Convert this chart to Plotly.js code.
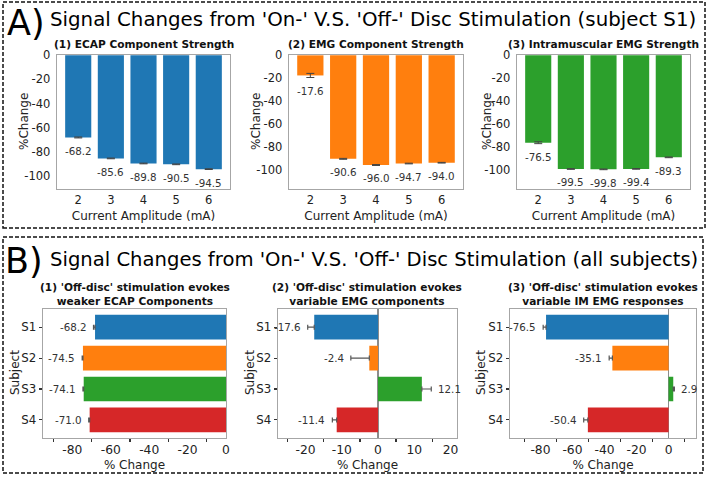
<!DOCTYPE html>
<html>
<head>
<meta charset="utf-8">
<script src="https://cdn.plot.ly/plotly-3.0.1.min.js"></script>
<style>html,body{margin:0;padding:0;background:#fff;}#chart{width:708px;height:477px;}</style>
</head>
<body>
<div id="chart"></div>
<script>
// ---------- data ----------
const amplitudes = [2, 3, 4, 5, 6];
const ecapS1 = [-68.2, -85.6, -89.8, -90.5, -94.5];
const emgS1 = [-17.6, -90.6, -96.0, -94.7, -94.0];
const imS1 = [-76.5, -99.5, -99.8, -99.4, -89.3];
const ecapS1Err = [0.4, 0.3, 0.3, 0.3, 0.3];
const emgS1Err = [1.8, 0.4, 0.4, 0.3, 0.3];
const imS1Err = [0.8, 0.3, 0.3, 0.3, 0.3];

const subjects = ['S1', 'S2', 'S3', 'S4'];
const ecapAll = [-68.2, -74.5, -74.1, -71.0];
const emgAll = [-17.6, -2.4, 12.1, -11.4];
const imAll = [-76.5, -35.1, 2.9, -50.4];
const ecapAllErr = [0.8, 0.4, 0.4, 0.5];
const emgAllErr = [1.8, 5.1, 2.6, 1.2];
const imAllErr = [1.8, 2.0, 0.7, 2.6];

const titleA = "Signal Changes from 'On-' V.S. 'Off-' Disc Stimulation (subject S1)";
const titleB = "Signal Changes from 'On-' V.S. 'Off-' Disc Stimulation (all subjects)";
const subTitlesA = ['(1) ECAP Component Strength', '(2) EMG Component Strength', '(3) Intramuscular EMG Strength'];
const subTitlesB = ["(1) 'Off-disc' stimulation evokes<br>weaker ECAP Components",
                    "(2) 'Off-disc' stimulation evokes<br>variable EMG components",
                    "(3) 'Off-disc' stimulation evokes<br>variable IM EMG responses"];
const xTitleA = 'Current Amplitude (mA)';
const yTitleA = '%Change';
const xTitleB = '% Change';
const yTitleB = 'Subject';
const yTicksA = [0, -20, -40, -60, -80, -100];
const xTicksB = [[-80, -60, -40, -20, 0], [-20, -10, 0, 10, 20], [-80, -60, -40, -20, 0]];
const xMinorTicksB = [[-90, -70, -50, -30, -10], [-25, -15, -5, 5, 15], [-90, -70, -50, -30, -10, 10]];

// ---------- styles ----------
const tab = ['#1f77b4', '#ff7f0e', '#2ca02c', '#d62728'];
const FONT = 'DejaVu Sans, Verdana, sans-serif';
const W = 708, H = 477;
const px = v => v / W;
const py = v => 1 - v / H;

const traces = [];
const annotations = [];

// Panel A
const seriesA = [ecapS1, emgS1, imS1];
const errA = [ecapS1Err, emgS1Err, imS1Err];
const colA = [tab[0], tab[1], tab[2]];
seriesA.forEach((vals, i) => {
  const ax = i === 0 ? '' : String(i + 1);
  traces.push({
    type: 'bar', x: amplitudes, y: vals, width: 0.8,
    xaxis: 'x' + ax, yaxis: 'y' + ax,
    marker: {color: colA[i], line: {width: 0}},
    error_y: {type: 'data', array: errA[i], color: '#444', thickness: 1, width: 4},
    hoverinfo: 'x+y', showlegend: false
  });
  vals.forEach((v, k) => {
    annotations.push({
      xref: 'x' + ax, yref: 'y' + ax, x: amplitudes[k], y: v - errA[i][k],
      text: v.toFixed(1), showarrow: false, xanchor: 'center', yanchor: 'top', yshift: -5,
      font: {family: FONT, size: 10.3, color: '#333'}
    });
  });
});

// Panel B
const seriesB = [ecapAll, emgAll, imAll];
const errB = [ecapAllErr, emgAllErr, imAllErr];
seriesB.forEach((vals, i) => {
  const ax = String(i + 4);
  const plus = vals.map((v, k) => v >= 0 ? errB[i][k] : 0);
  const minus = vals.map((v, k) => v < 0 ? errB[i][k] : 0);
  traces.push({
    type: 'bar', orientation: 'h', x: vals, y: subjects, width: 0.8,
    xaxis: 'x' + ax, yaxis: 'y' + ax,
    marker: {color: tab, line: {width: 0}},
    error_x: {type: 'data', symmetric: false, array: plus, arrayminus: minus,
              color: '#555', thickness: 1.2, width: 2.5},
    hoverinfo: 'x+y', showlegend: false
  });
  // invisible companion trace carrying the offset tick-mark axis
  traces.push({
    type: 'scatter', mode: 'markers', x: vals, y: subjects,
    xaxis: 'x' + String(i + 7), yaxis: 'y' + ax,
    marker: {opacity: 0, size: 1}, hoverinfo: 'skip', showlegend: false
  });
  vals.forEach((v, k) => {
    const neg = v < 0;
    annotations.push({
      xref: 'x' + ax, yref: 'y' + ax,
      x: neg ? v - errB[i][k] : v + errB[i][k], y: subjects[k],
      text: v.toFixed(1), showarrow: false,
      xanchor: neg ? 'right' : 'left', yanchor: 'middle', xshift: neg ? -5 : 5,
      font: {family: FONT, size: 10.3, color: '#333'}
    });
  });
});

// Headline titles
annotations.push(
  {xref: 'paper', yref: 'paper', x: px(5), y: py(23), text: 'A)', showarrow: false,
   xanchor: 'left', yanchor: 'middle', font: {family: FONT, size: 35, color: '#000'}},
  {xref: 'paper', yref: 'paper', x: px(48), y: py(19), text: titleA, showarrow: false,
   xanchor: 'left', yanchor: 'middle', font: {family: FONT, size: 19.8, color: '#000'}},
  {xref: 'paper', yref: 'paper', x: px(3), y: py(261), text: 'B)', showarrow: false,
   xanchor: 'left', yanchor: 'middle', font: {family: FONT, size: 35, color: '#000'}},
  {xref: 'paper', yref: 'paper', x: px(48), y: py(259), text: titleB, showarrow: false,
   xanchor: 'left', yanchor: 'middle', font: {family: FONT, size: 19.6, color: '#000'}}
);

// Subplot domains
const domA = [[57, 230], [289, 463], [517, 690]];
const domB = [[43, 226], [278, 457], [510, 696]];
const yDomA = [py(189), py(55)];
const yDomB = [py(437.5), py(309)];
const yTitleXA = [24, 256, 487];
const yTitleXB = [15, 250, 481];

subTitlesA.forEach((t, i) => {
  annotations.push({xref: 'paper', yref: 'paper', x: px((domA[i][0] + domA[i][1]) / 2), y: py(44),
    text: '<b>' + t + '</b>', showarrow: false, xanchor: 'center', yanchor: 'middle',
    font: {family: FONT, size: 10.6, color: '#111'}});
  annotations.push({xref: 'paper', yref: 'paper', x: px(yTitleXA[i]), y: py(122),
    text: yTitleA, textangle: -90, showarrow: false, xanchor: 'center', yanchor: 'middle',
    font: {family: FONT, size: 12, color: '#222'}});
});
subTitlesB.forEach((t, i) => {
  const tt = t.split('<br>').map(s => '<b>' + s + '</b>').join('<br>');
  annotations.push({xref: 'paper', yref: 'paper', x: px((domB[i][0] + domB[i][1]) / 2), y: py(294),
    text: tt, showarrow: false, xanchor: 'center', yanchor: 'middle',
    font: {family: FONT, size: 10.6, color: '#111'}});
  annotations.push({xref: 'paper', yref: 'paper', x: px(yTitleXB[i]), y: py(373),
    text: yTitleB, textangle: -90, showarrow: false, xanchor: 'center', yanchor: 'middle',
    font: {family: FONT, size: 12, color: '#222'}});
});

const frame = {showline: true, mirror: true, linecolor: '#a6a6a6', linewidth: 1.3, showgrid: false};
const tickFontA = {family: FONT, size: 11.5, color: '#222'};
const tickFontB = {family: FONT, size: 12.3, color: '#222'};
const tickFontBy = {family: FONT, size: 11.8, color: '#222'};
const titleFont = {family: FONT, size: 12, color: '#222'};

const layout = {
  width: W, height: H, margin: {l: 0, r: 0, t: 0, b: 0},
  paper_bgcolor: '#fff', plot_bgcolor: '#fff', showlegend: false,
  font: {family: FONT},
  annotations: annotations,
  shapes: [
    {type: 'rect', xref: 'paper', yref: 'paper', x0: px(3), x1: px(705), y0: py(228), y1: py(2),
     line: {color: '#111', width: 1.5, dash: '4px,2px'}},
    {type: 'rect', xref: 'paper', yref: 'paper', x0: px(3), x1: px(703), y0: py(473), y1: py(237),
     line: {color: '#111', width: 1.5, dash: '4px,2px'}}
  ]
};

const yRangesA = [[-111, 0.3], [-117, 0.3], [-117, 0.3]];
domA.forEach((d, i) => {
  const s = i === 0 ? '' : String(i + 1);
  layout['xaxis' + s] = Object.assign({}, frame, {
    domain: [px(d[0]), px(d[1])], anchor: 'y' + s, range: [1.35, 6.65],
    tickvals: amplitudes, ticks: '',
    tickfont: tickFontA, zeroline: false,
    title: {text: xTitleA, font: titleFont, standoff: 5}
  });
  layout['yaxis' + s] = Object.assign({}, frame, {
    domain: yDomA, anchor: 'x' + s, range: yRangesA[i],
    tickvals: yTicksA, ticktext: yTicksA.map(v => String(v)),
    ticks: 'outside', ticklen: 3, tickcolor: 'rgba(0,0,0,0)',
    tickfont: tickFontA, zeroline: false
  });
});

const xRangesB = [[-95.3, 0], [-27.6, 21.8], [-99, 17.1]];
domB.forEach((d, i) => {
  const s = String(i + 4);
  layout['xaxis' + s] = Object.assign({}, frame, {
    domain: [px(d[0]), px(d[1])], anchor: 'y' + s, range: xRangesB[i],
    tickvals: xTicksB[i], ticktext: xTicksB[i].map(v => String(v)),
    ticks: '', tickfont: tickFontB,
    zeroline: i > 0, zerolinecolor: '#8c8c8c', zerolinewidth: 1.2,
    title: {text: xTitleB, font: titleFont, standoff: 5}
  });
  // tick marks between labels
  layout['xaxis' + String(i + 7)] = {
    domain: [px(d[0]), px(d[1])], anchor: 'y' + s, overlaying: 'x' + s, side: 'bottom',
    range: xRangesB[i], tickvals: xMinorTicksB[i], showticklabels: false,
    ticks: 'outside', ticklen: 3, tickwidth: 1.3, tickcolor: '#333',
    showline: false, showgrid: false, zeroline: false
  };
  layout['yaxis' + s] = Object.assign({}, frame, {
    domain: yDomB, anchor: 'x' + s, type: 'category', range: [3.57, -0.59],
    ticks: 'outside', ticklen: 3, tickcolor: '#333', tickwidth: 1.2,
    tickfont: tickFontBy
  });
});

Plotly.newPlot('chart', traces, layout, {staticPlot: true, displayModeBar: false});
</script>
</body>
</html>
